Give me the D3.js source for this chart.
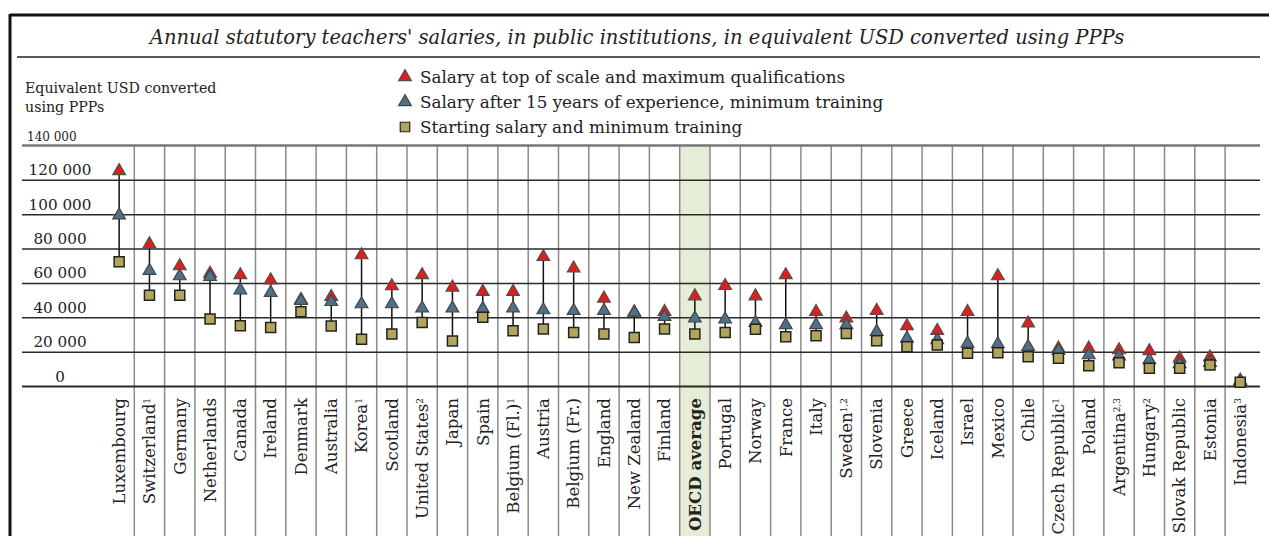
<!DOCTYPE html>
<html>
<head>
<meta charset="utf-8">
<script src="https://cdn.jsdelivr.net/npm/d3@7"></script>
<style>
  body { margin: 0; background: #fff; }
  svg { display: block; }
  text { font-family: "DejaVu Serif", "Liberation Serif", serif; fill: #222; }
</style>
</head>
<body>
<svg width="1269" height="536"></svg>
<script>
// countries, in chart order, with footnote marks
const countries = ["Luxembourg", "Switzerland", "Germany", "Netherlands", "Canada", "Ireland", "Denmark",
  "Australia", "Korea", "Scotland", "United States", "Japan", "Spain", "Belgium (Fl.)", "Austria",
  "Belgium (Fr.)", "England", "New Zealand", "Finland", "OECD average", "Portugal", "Norway", "France",
  "Italy", "Sweden", "Slovenia", "Greece", "Iceland", "Israel", "Mexico", "Chile", "Czech Republic",
  "Poland", "Argentina", "Hungary", "Slovak Republic", "Estonia", "Indonesia"];
const notes = ["", "1", "", "", "", "", "", "", "1", "", "2", "", "", "1", "", "", "", "", "", "", "", "", "",
  "", "1,2", "", "", "", "", "", "", "1", "", "2,3", "2", "", "", "3"];

// salary at top of scale and maximum qualifications
const topSalary = [125200, 82600, 69800, 65500, 64600, 61600, 50200, 51900, 76200, 58200, 64600, 57400,
  54900, 54900, 75200, 68500, 51000, 42900, 43200, 52300, 58300, 52300, 64600, 43200, 39400, 43800, 34900,
  32200, 43200, 64000, 36500, 21900, 21900, 20900, 20400, 16100, 16700, 3200];
// salary after 15 years of experience, minimum training
const midSalary = [99400, 67100, 64000, 63600, 55800, 54300, 49600, 49000, 47700, 47700, 45200, 45200,
  45000, 45200, 44200, 43800, 43800, 42800, 40300, 39400, 38800, 36800, 35500, 35500, 35500, 31600, 27700,
  26800, 24800, 24400, 22900, 20500, 18000, 17400, 15100, 12800, 13600, 2700];
// starting salary and minimum training
const startSalary = [72300, 52900, 52900, 39000, 35100, 34100, 43200, 34900, 27200, 30200, 37000, 26200,
  40000, 32200, 33200, 31200, 30200, 28300, 33200, 30200, 31200, 33000, 28700, 29300, 30600, 26400, 22900,
  23800, 19000, 19400, 17000, 16100, 11800, 13600, 10300, 10400, 12200, 2200];

const yTicks = [0, 20000, 40000, 60000, 80000, 100000, 120000];
const legendLabels = ["Salary at top of scale and maximum qualifications",
  "Salary after 15 years of experience, minimum training",
  "Starting salary and minimum training"];

const RED = "#dc2020", BLUE = "#4c7189", OLIVE = "#b2a55c";

const svg = d3.select("svg");
const fmt = v => d3.format(",")(v).replace(/,/g, " ");

const x = d3.scaleBand().domain(countries).range([104, 1255.4]).padding(0);
const y = d3.scaleLinear().domain([0, 140000]).range([386, 145.5]);

// frame and title
svg.append("line").attr("x1", 10).attr("x2", 10).attr("y1", 14).attr("y2", 536)
  .attr("stroke", "#111").attr("stroke-width", 3);
svg.append("line").attr("x1", 10).attr("x2", 1269).attr("y1", 15).attr("y2", 15)
  .attr("stroke", "#111").attr("stroke-width", 3);
svg.append("text").attr("x", 637).attr("y", 44).attr("text-anchor", "middle")
  .style("font-style", "italic").style("font-size", "19.5px")
  .text("Annual statutory teachers' salaries, in public institutions, in equivalent USD converted using PPPs");
svg.append("line").attr("x1", 17).attr("x2", 1260).attr("y1", 57).attr("y2", 57)
  .attr("stroke", "#222").attr("stroke-width", 1.5);

// OECD average highlight
const oecd = "OECD average";
svg.append("rect").attr("x", x(oecd)).attr("y", y(140000)).attr("width", x.bandwidth())
  .attr("height", 536 - y(140000)).attr("fill", "#e5edd6");

// vertical column separators
svg.append("g").selectAll("line")
  .data(countries.slice(1))
  .join("line")
    .attr("x1", d => x(d)).attr("x2", d => x(d))
    .attr("y1", y(140000)).attr("y2", 536)
    .attr("stroke", "#8a8a8a").attr("stroke-width", 1.5);

// y axis grid + labels
const yAxis = d3.axisRight(y).tickValues(yTicks).tickSize(1238).tickFormat(fmt);
const gy = svg.append("g").attr("transform", "translate(22,0)").call(yAxis);
gy.select(".domain").remove();
gy.selectAll(".tick line").attr("stroke", "#2a2a2a").attr("stroke-width", 1.5);
gy.select(".tick line").attr("stroke-width", 2.2); // baseline at 0
gy.selectAll(".tick text")
  .attr("x", 38).attr("dy", -5).attr("text-anchor", "middle")
  .style("font-size", "15.2px").style("font-family", "DejaVu Serif, serif").attr("fill", "#222");

// top line at 140 000
svg.append("line").attr("x1", 22).attr("x2", 1260).attr("y1", y(140000)).attr("y2", y(140000))
  .attr("stroke", "#777").attr("stroke-width", 2.5);
svg.append("text").attr("x", 27).attr("y", y(140000) - 5).style("font-size", "12px")
  .text(fmt(140000));

// y axis title
svg.append("text").attr("x", 25).attr("y", 93).style("font-size", "14.2px")
  .text("Equivalent USD converted");
svg.append("text").attr("x", 25).attr("y", 112).style("font-size", "14.2px")
  .text("using PPPs");

// country labels
const labels = svg.append("g").selectAll("text")
  .data(countries)
  .join("text")
    .attr("transform", d => `translate(${x(d) + x.bandwidth() / 2},398) rotate(-90)`)
    .attr("dy", "0.35em")
    .attr("text-anchor", "end")
    .style("font-size", "16.6px")
    .style("font-weight", d => d === oecd ? "bold" : "normal");
labels.append("tspan").text(d => d);
labels.append("tspan")
  .attr("baseline-shift", "super").style("font-size", "9px")
  .text((d, i) => notes[i]);

// markers
const tri = d3.symbol(d3.symbolTriangle, 70);
const sq = d3.symbol(d3.symbolSquare, 100);
const cx = i => x(countries[i]) + x.bandwidth() / 2;

svg.append("g").selectAll("line")
  .data(countries)
  .join("line")
    .attr("x1", (d, i) => cx(i)).attr("x2", (d, i) => cx(i))
    .attr("y1", (d, i) => y(topSalary[i])).attr("y2", (d, i) => y(startSalary[i]))
    .attr("stroke", "#111").attr("stroke-width", 1.5);

svg.append("g").selectAll("path")
  .data(topSalary)
  .join("path")
    .attr("d", tri)
    .attr("transform", (d, i) => `translate(${cx(i)},${y(d)})`)
    .attr("fill", RED).attr("stroke", "#5a4a44").attr("stroke-width", 1.2);

svg.append("g").selectAll("path")
  .data(midSalary)
  .join("path")
    .attr("d", tri)
    .attr("transform", (d, i) => `translate(${cx(i)},${y(d)})`)
    .attr("fill", BLUE).attr("stroke", "#444").attr("stroke-width", 1.2);

svg.append("g").selectAll("path")
  .data(startSalary)
  .join("path")
    .attr("d", sq)
    .attr("transform", (d, i) => `translate(${cx(i)},${y(d)})`)
    .attr("fill", OLIVE).attr("stroke", "#222").attr("stroke-width", 1.5);

// legend
const legend = svg.append("g").attr("transform", "translate(405,0)");
const legendY = [77, 102, 127];
const legendSym = [
  {d: tri, fill: RED, stroke: "#5a4a44"},
  {d: tri, fill: BLUE, stroke: "#444"},
  {d: d3.symbol(d3.symbolSquare, 90), fill: OLIVE, stroke: "#222"}
];
legendLabels.forEach((t, i) => {
  legend.append("path").attr("d", legendSym[i].d)
    .attr("transform", `translate(0,${legendY[i]})`)
    .attr("fill", legendSym[i].fill).attr("stroke", legendSym[i].stroke).attr("stroke-width", 1.2);
  legend.append("text").attr("x", 15).attr("y", legendY[i]).attr("dy", "0.35em")
    .style("font-size", "16.8px").text(t);
});
</script>
</body>
</html>
